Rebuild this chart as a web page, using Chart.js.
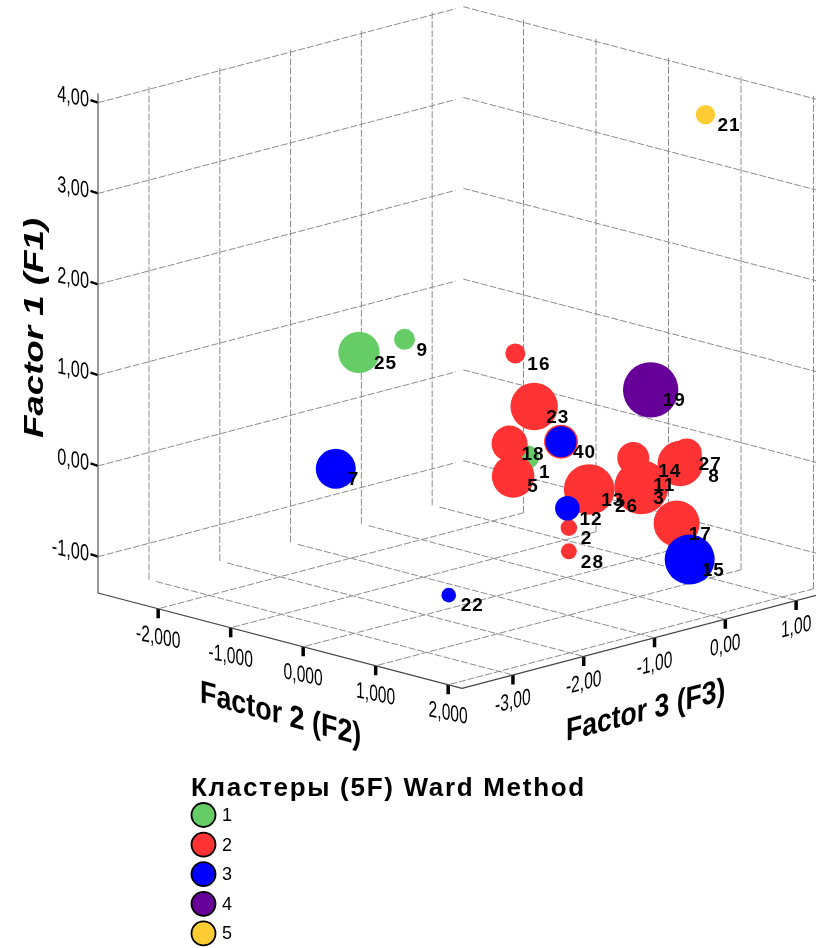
<!DOCTYPE html>
<html>
<head>
<meta charset="utf-8">
<title>Кластеры (5F) Ward Method</title>
<script src="https://cdn.jsdelivr.net/npm/chart.js@4"></script>
<style>
    html, body { margin: 0; padding: 0; background: #fff; }
    canvas { display: block; }
</style>
</head>
<body>
<canvas id="chart" width="816" height="948"></canvas>
<script>
// case values (one entry per case)
const caseLabels = ['1', '2', '3', '40', '5', '7', '8', '9', '', '11', '12', '13', '14', '15', '16', '17', '18', '19', '21', '22', '23', '25', '26', '27', '28'];
const caseCluster = [1, 2, 2, 3, 2, 3, 2, 1, 2, 2, 3, 2, 2, 3, 2, 2, 2, 4, 5, 3, 2, 1, 2, 2, 2];
const factor1 = [0.22, -0.64, -0.19, 0.49, -0.03, -0.05, -0.02, 1.37, 0.49, -0.05, -0.43, -0.16, 0.11, -1.05, 1.33, -0.69, 0.32, 0.91, 3.69, -1.32, 0.80, 1.30, -0.19, 0.11, -0.90];
const factor2 = [0.43, 0.52, 1.03, 0.90, 0.24, -1.23, 1.08, -0.77, 0.90, 1.03, 0.50, 0.80, 0.92, 1.21, 0.27, 1.03, 0.19, 1.16, 0.94, -0.16, 0.53, -0.91, 0.99, 1.17, 0.52];
const factor3 = [-1, -0.5, 0, -1, -1, -2, 0.5, -1.5, -1, 0, -0.5, -0.5, 0, 0.5, -1, 0.5, -1, 0, 1, -1.5, -1, -2, -0.5, 0.5, -0.5];
const bubbleSize = [1.2, 0.83, 2.7, 1.55, 2.13, 2.0, 2.27, 1.05, 1.7, 1.2, 1.23, 2.53, 1.6, 2.5, 1.0, 2.3, 1.8, 2.77, 0.97, 0.73, 2.37, 2.07, 1.0, 1.5, 0.8];

// axes
const f1Ticks = [-1, 0, 1, 2, 3, 4];
const f2Ticks = [-2, -1, 0, 1, 2];
const f3Ticks = [-3, -2, -1, 0, 1];
const f1TickLabels = ['-1,00', '0,00', '1,00', '2,00', '3,00', '4,00'];
const f2TickLabels = ['-2,000', '-1,000', '0,000', '1,000', '2,000'];
const f3TickLabels = ['-3,00', '-2,00', '-1,00', '0,00', '1,00'];

const clusterNames = ['1', '2', '3', '4', '5'];
const clusterColors = ['#66CC66', '#FF3333', '#0000FF', '#660099', '#FFCC33'];

// box limits
const f1Floor = -1.4, f1Top = 4.05;
const f2Min = -2.83, f2Max = 2.19;
const f3Min = -3.72, f3Max = 1.44;

// the 3D box is an oblique projection onto the page
function project(f1, f2, f3) {
    const u = f2 - f2Min, v = f3 - f3Min, h = f1 - f1Floor;
    return {
        x: 98 + 72.5 * u + 70.8 * v,
        y: 593 + 19 * u - 18.6 * v - 90.8 * h
    };
}

function lineSet(points, color, width, dash) {
    return {
        type: 'line',
        data: points,
        borderColor: color,
        borderWidth: width,
        borderDash: dash || [],
        pointRadius: 0,
        fill: false,
        clip: false,
        order: 20
    };
}

const gridDash = [7, 2];
const gridColor = '#8c8c8c';
const datasets = [];

// back walls
f1Ticks.forEach(f1 => {
    datasets.push(lineSet([project(f1, f2Min, f3Min), project(f1, f2Min, 1.33)], gridColor, 1, gridDash));
    datasets.push(lineSet([project(f1, f2Min, f3Max), project(f1, f2Max, f3Max)], gridColor, 1, gridDash));
});
f3Ticks.forEach(f3 => {
    datasets.push(lineSet([project(f1Floor, f2Min, f3), project(f1Top, f2Min, f3)], gridColor, 1, gridDash));
});
f2Ticks.forEach(f2 => {
    datasets.push(lineSet([project(f1Floor, f2, f3Max), project(f1Top, f2, f3Max)], gridColor, 1, gridDash));
});

// floor
f2Ticks.forEach(f2 => {
    datasets.push(lineSet([project(f1Floor, f2, f3Min + 0.03), project(f1Floor, f2, f3Max)], gridColor, 1, gridDash));
});
f3Ticks.forEach(f3 => {
    datasets.push(lineSet([project(f1Floor, f2Min + 0.1, f3), project(f1Floor, f2Max, f3)], gridColor, 1, gridDash));
});

// axis lines
datasets.push(lineSet([project(f1Floor, f2Min, f3Min), project(f1Top + 0.05, f2Min, f3Min)], '#555', 1.2));
datasets.push(lineSet([project(f1Floor, f2Min, f3Min), project(f1Floor, f2Max, f3Min)], '#444', 1.2));
datasets.push(lineSet([project(f1Floor, f2Max, f3Min), project(f1Floor, f2Max, f3Max)], '#444', 1.2));

// tick marks
f1Ticks.forEach(f1 => {
    const p = project(f1, f2Min, f3Min);
    datasets.push(lineSet([{ x: p.x - 7.5, y: p.y - 2.5 }, p], '#000', 2.4));
});
f2Ticks.forEach(f2 => {
    const p = project(f1Floor, f2, f3Min);
    datasets.push(lineSet([p, { x: p.x, y: p.y + 9.5 }], '#000', 3.5));
});
f3Ticks.forEach(f3 => {
    const p = project(f1Floor, f2Max, f3);
    datasets.push(lineSet([p, { x: p.x, y: p.y + 9.5 }], '#000', 3.5));
});

// one bubble dataset per cluster, later clusters on top
clusterNames.forEach((name, c) => {
    const points = [];
    const labels = [];
    caseCluster.forEach((cl, i) => {
        if (cl !== c + 1) return;
        const p = project(factor1[i], factor2[i], factor3[i]);
        points.push({ x: p.x, y: p.y, r: bubbleSize[i] * 10 });
        labels.push(caseLabels[i]);
    });
    datasets.push({
        type: 'bubble',
        label: name,
        data: points,
        caseNames: labels,
        backgroundColor: clusterColors[c],
        borderWidth: 0,
        clip: false,
        order: 5 - c
    });
});

// a few labels sit further from their bubble than the rest
const labelShift = { '25': [15, 11], '5': [14, 10], '8': [28, 13], '14': [25, 14], '1': [12, 16] };

function slantText(ctx, text, x, y, slope, scaleX, font, align, baseline) {
    ctx.save();
    ctx.transform(scaleX, slope * scaleX, 0, 1, x, y);
    ctx.font = font;
    ctx.textAlign = align;
    ctx.textBaseline = baseline;
    ctx.fillText(text, 0, 0);
    ctx.restore();
}

const textPlugin = {
    id: 'boxText',
    afterDraw(chart) {
        const ctx = chart.ctx;
        const tickFont = '23px "Liberation Sans"';
        const toPixel = p => ({ x: chart.scales.x.getPixelForValue(p.x), y: chart.scales.y.getPixelForValue(p.y) });
        ctx.save();
        ctx.fillStyle = '#000';

        // case numbers next to the bubbles
        ctx.font = 'bold 19px "Liberation Sans"';
        ctx.letterSpacing = '1px';
        ctx.textAlign = 'left';
        ctx.textBaseline = 'middle';
        chart.data.datasets.forEach((ds, di) => {
            if (ds.type !== 'bubble') return;
            chart.getDatasetMeta(di).data.forEach((el, i) => {
                const name = ds.caseNames[i];
                if (!name) return;
                const shift = labelShift[name] || [12, 11];
                ctx.fillText(name, el.x + shift[0], el.y + shift[1]);
            });
        });
        ctx.letterSpacing = '0px';

        // tick labels
        f1Ticks.forEach((f1, i) => {
            const p = toPixel(project(f1, f2Min, f3Min));
            slantText(ctx, f1TickLabels[i], p.x - 9, p.y - 2, 0.2, 0.71, tickFont, 'right', 'middle');
        });
        f2Ticks.forEach((f2, i) => {
            const p = toPixel(project(f1Floor, f2, f3Min));
            slantText(ctx, f2TickLabels[i], p.x, p.y + 29, 0.2, 0.68, tickFont, 'center', 'middle');
        });
        f3Ticks.forEach((f3, i) => {
            const p = toPixel(project(f1Floor, f2Max, f3));
            slantText(ctx, f3TickLabels[i], p.x, p.y + 27, -0.25, 0.68, tickFont, 'center', 'middle');
        });

        // axis titles
        ctx.save();
        ctx.translate(35, 328);
        ctx.rotate(-Math.PI / 2);
        ctx.scale(1.31, 1);
        ctx.font = 'italic bold 28px "Liberation Sans"';
        ctx.textAlign = 'center';
        ctx.textBaseline = 'middle';
        ctx.fillText('Factor 1 (F1)', 0, 0);
        ctx.restore();
        slantText(ctx, 'Factor 2 (F2)', 200, 702, 0.27, 0.84, 'bold 32px "Liberation Sans"', 'left', 'alphabetic');
        slantText(ctx, 'Factor 3 (F3)', 566, 741, -0.26, 0.83, 'bold 32px "Liberation Sans"', 'left', 'alphabetic');

        // legend
        ctx.font = 'bold 26px "Liberation Sans"';
        ctx.letterSpacing = '1.7px';
        ctx.textAlign = 'left';
        ctx.textBaseline = 'middle';
        ctx.fillText('Кластеры (5F) Ward Method', 191, 789);
        ctx.letterSpacing = '0px';
        ctx.font = '18px "Liberation Sans"';
        clusterNames.forEach((name, i) => {
            const y = 815 + i * 29.6;
            ctx.beginPath();
            ctx.arc(203.5, y, 12, 0, Math.PI * 2);
            ctx.fillStyle = clusterColors[i];
            ctx.fill();
            ctx.lineWidth = 1.8;
            ctx.strokeStyle = '#000';
            ctx.stroke();
            ctx.fillStyle = '#000';
            ctx.fillText(name, 222, y + 1);
        });
        ctx.restore();
    }
};

const chart = new Chart(document.getElementById('chart').getContext('2d'), {
    type: 'bubble',
    data: { datasets: datasets },
    options: {
        responsive: false,
        animation: false,
        layout: { padding: 0 },
        plugins: {
            legend: { display: false },
            tooltip: { enabled: false }
        },
        scales: {
            x: { type: 'linear', min: 0, max: 816, display: false },
            y: { type: 'linear', min: 0, max: 948, reverse: true, display: false }
        }
    },
    plugins: [textPlugin]
});

// bubble charts inset the plot area by the largest radius, so line the scales up with the page again
const area = chart.chartArea;
chart.options.scales.x.min = area.left;
chart.options.scales.x.max = area.right;
chart.options.scales.y.min = area.top;
chart.options.scales.y.max = area.bottom;
chart.update();
</script>
</body>
</html>
